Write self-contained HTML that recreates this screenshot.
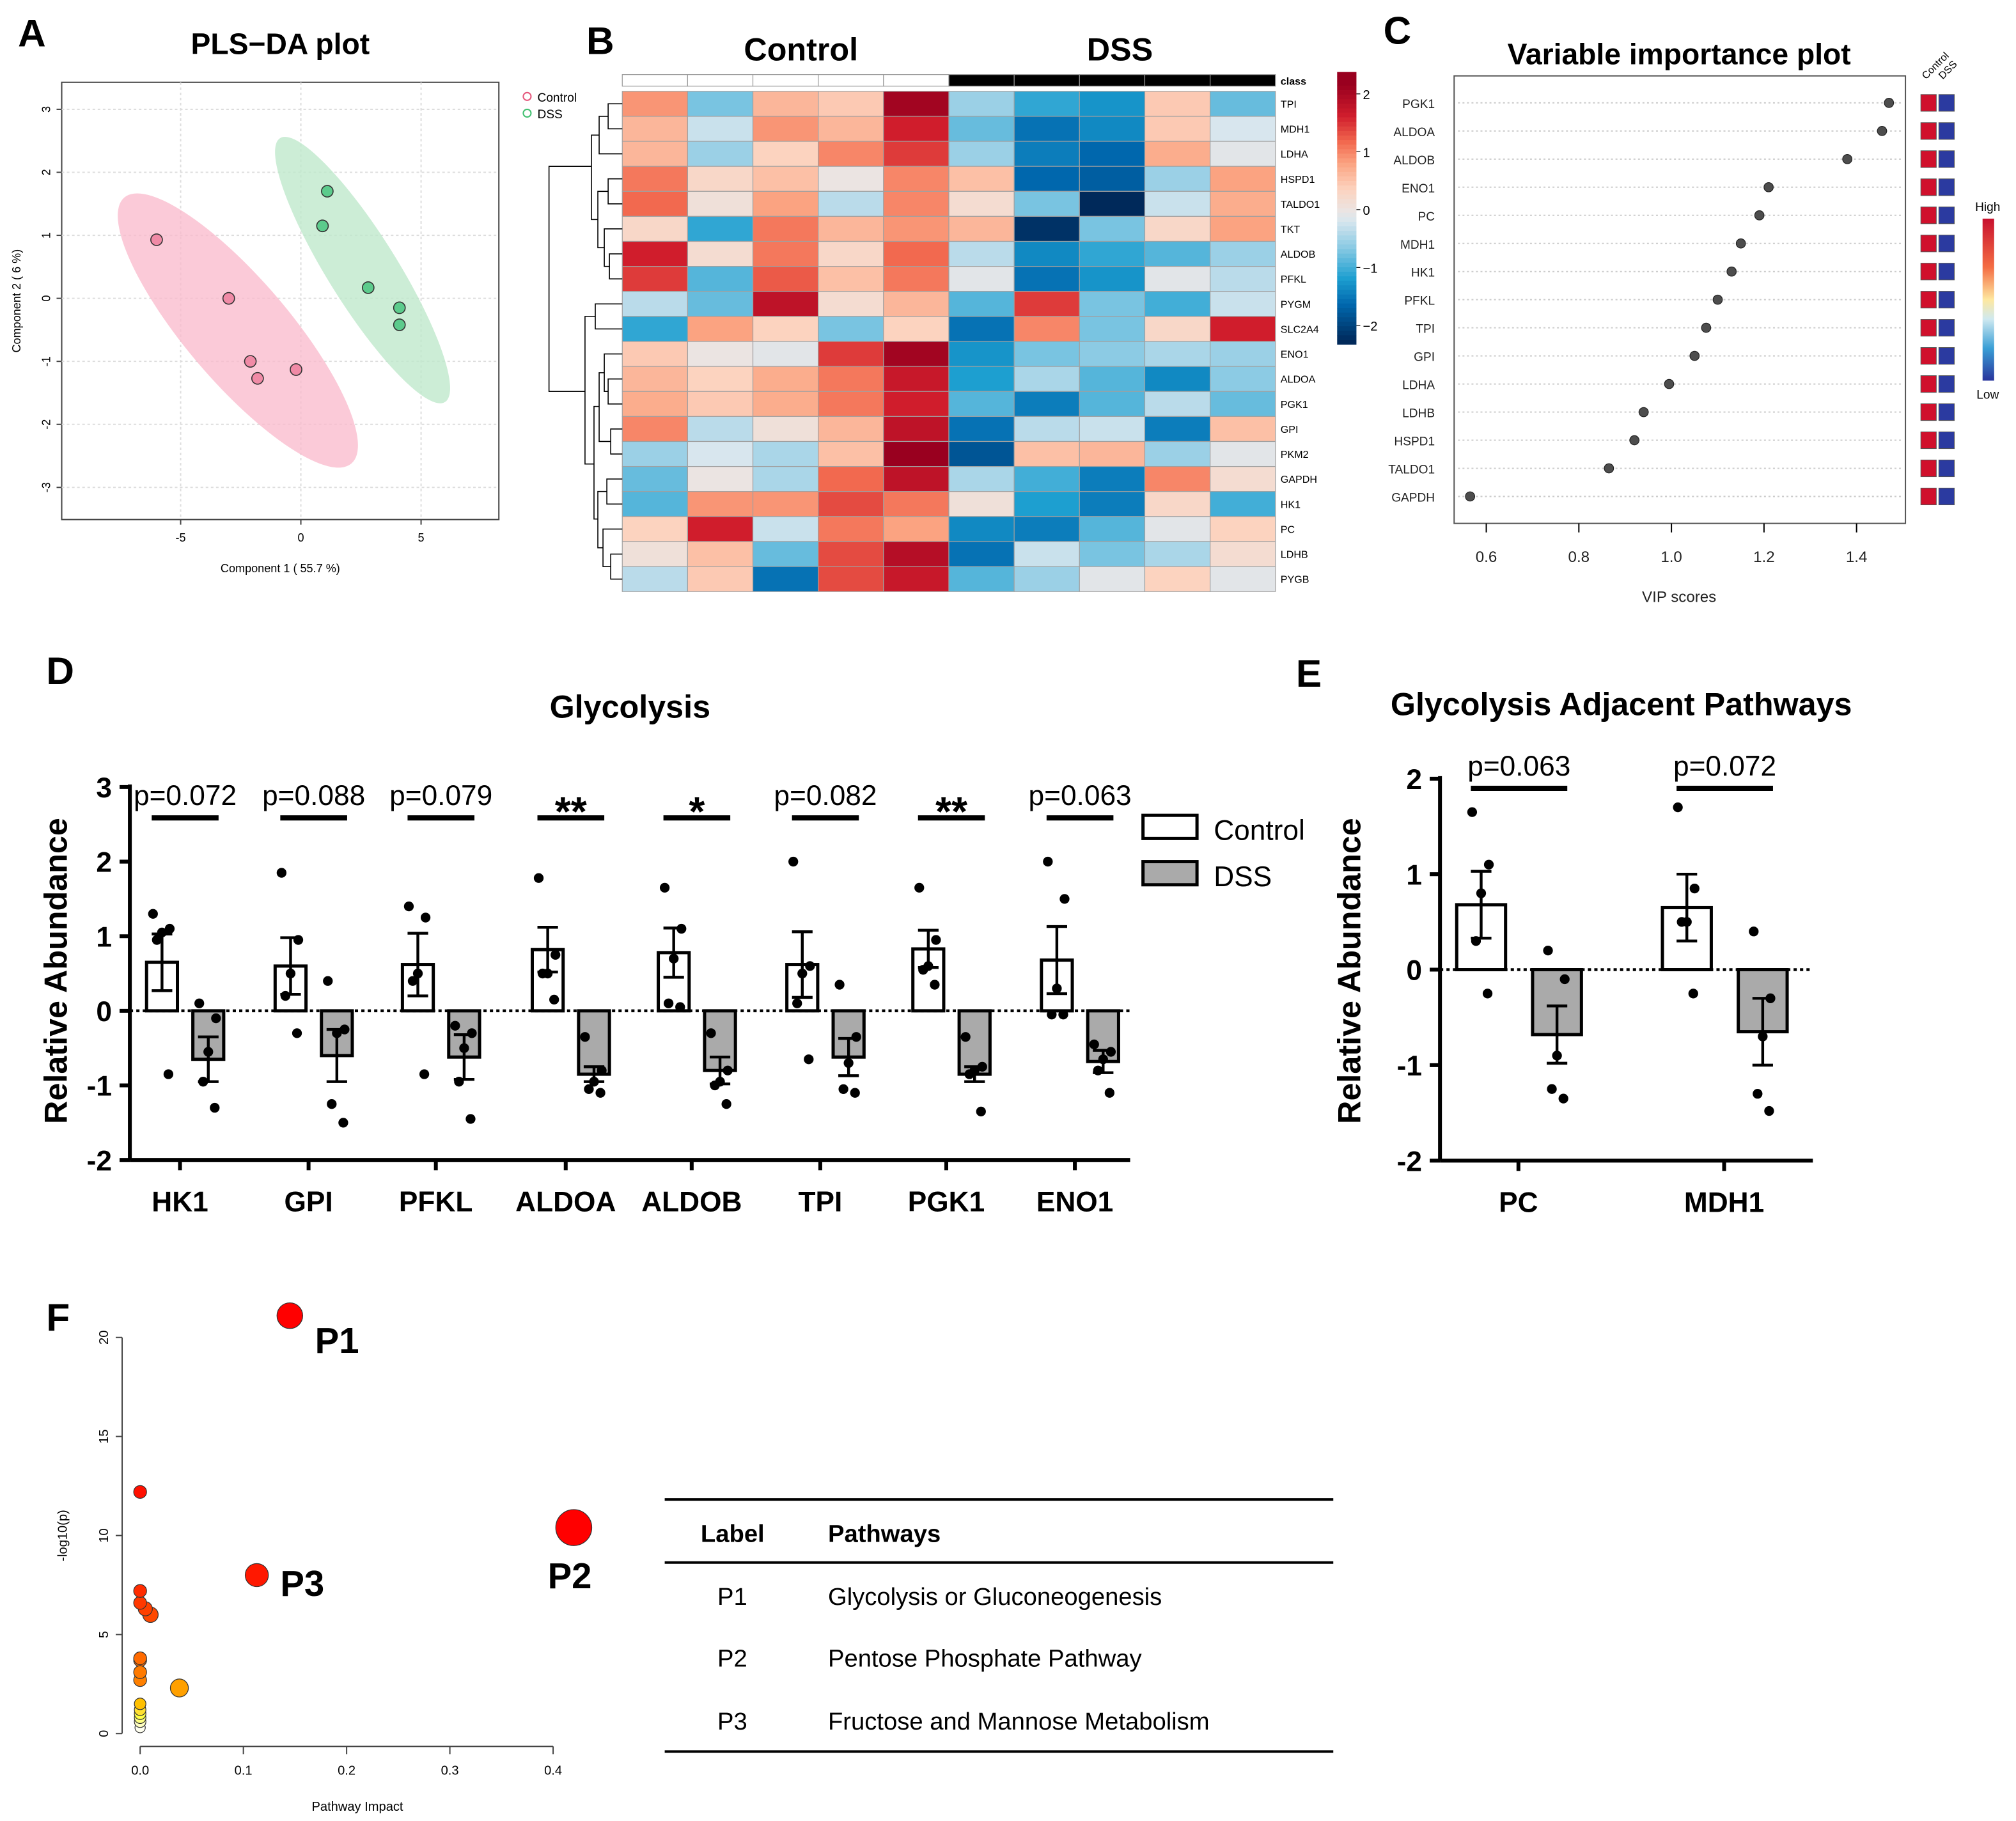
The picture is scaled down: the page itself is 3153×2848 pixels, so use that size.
<!DOCTYPE html>
<html><head><meta charset="utf-8"><style>
html,body{margin:0;padding:0;background:#fff;}
svg{display:block;font-family:"Liberation Sans",sans-serif;}
</style></head><body>
<svg id="fig" width="3153" height="2848" viewBox="0 0 1568 1416" preserveAspectRatio="none" xmlns="http://www.w3.org/2000/svg"></svg>
<script>
// ---------- DATA ----------
const plsControlX=[-6,-3,-2.1,-1.8,-0.2];
const plsControlY=[0.93,0,-1,-1.27,-1.13];
const plsDssX=[1.1,0.9,2.8,4.1,4.1];
const plsDssY=[1.7,1.15,0.17,-0.15,-0.42];
const heatGenes=["TPI","MDH1","LDHA","HSPD1","TALDO1","TKT","ALDOB","PFKL","PYGM","SLC2A4","ENO1","ALDOA","PGK1","GPI","PKM2","GAPDH","HK1","PC","LDHB","PYGB"];
const heatValues=[
[1.0,-0.8,0.7,0.5,2.3,-0.6,-1.2,-1.4,0.5,-0.9],
[0.7,-0.3,1.0,0.7,1.8,-0.9,-1.7,-1.5,0.5,-0.2],
[0.7,-0.6,0.4,1.1,1.6,-0.6,-1.6,-1.8,0.8,-0.1],
[1.2,0.3,0.6,0,1.1,0.6,-1.8,-1.9,-0.6,0.9],
[1.3,0.1,0.9,-0.4,1.1,0.2,-0.8,-2.5,-0.3,0.8],
[0.3,-1.2,1.2,0.7,1.0,0.7,-2.4,-0.8,0.3,0.9],
[1.8,0.2,1.2,0.3,1.3,-0.4,-1.5,-1.2,-1.0,-0.6],
[1.6,-1.0,1.4,0.6,1.2,-0.1,-1.7,-1.4,-0.1,-0.4],
[-0.4,-0.9,2.0,0.2,0.7,-1.0,1.6,-0.8,-1.1,-0.3],
[-1.2,0.9,0.4,-0.8,0.4,-1.7,1.1,-0.8,0.3,1.8],
[0.5,0,-0.1,1.6,2.3,-1.4,-0.8,-0.7,-0.5,-0.6],
[0.7,0.4,0.8,1.2,1.9,-1.3,-0.5,-1.0,-1.5,-0.7],
[0.8,0.5,0.8,1.2,1.8,-1.0,-1.6,-1.0,-0.4,-0.9],
[1.1,-0.4,0.1,0.7,2.0,-1.7,-0.4,-0.3,-1.6,0.6],
[-0.6,-0.2,-0.5,0.6,2.4,-2.0,0.6,0.7,-0.6,-0.1],
[-0.9,0.0,-0.5,1.3,2.0,-0.5,-1.1,-1.6,1.1,0.2],
[-1.0,1.0,1.0,1.5,1.2,0.1,-1.3,-1.6,0.3,-1.1],
[0.4,1.8,-0.3,1.2,0.9,-1.5,-1.6,-1.0,-0.1,0.4],
[0.1,0.6,-0.9,1.5,2.1,-1.7,-0.3,-0.8,-0.5,0.2],
[-0.4,0.5,-1.7,1.5,1.9,-1.0,-0.6,-0.1,0.4,-0.1]];
const heatScaleTicks=[2,1,0,-1,-2];
const vipGenes=["PGK1","ALDOA","ALDOB","ENO1","PC","MDH1","HK1","PFKL","TPI","GPI","LDHA","LDHB","HSPD1","TALDO1","GAPDH"];
const vipScores=[1.47,1.455,1.38,1.21,1.19,1.15,1.13,1.10,1.075,1.05,0.995,0.94,0.92,0.865,0.565];
const vipTicks=[0.6,0.8,1.0,1.2,1.4];
const glyGenes=["HK1","GPI","PFKL","ALDOA","ALDOB","TPI","PGK1","ENO1"];
const glyControlMean=[0.65,0.6,0.62,0.82,0.78,0.62,0.83,0.68];
const glyDssMean=[-0.65,-0.6,-0.62,-0.85,-0.8,-0.62,-0.85,-0.68];
const glyControlSem=[0.38,0.38,0.42,0.3,0.33,0.44,0.25,0.45];
const glyDssSem=[0.3,0.35,0.3,0.1,0.18,0.25,0.1,0.15];
const glyControlPts=[[1.3,1.1,1.05,0.95,-0.85],[1.85,0.95,0.5,0.2,-0.3],[1.4,1.25,0.5,0.4,-0.85],[1.78,0.75,0.5,0.5,0.15],[1.65,1.1,0.7,0.1,0.05],[2.0,0.6,0.5,0.1,-0.65],[1.65,0.95,0.6,0.55,0.35],[2.0,1.5,0.3,-0.05,-0.05]];
const glyDssPts=[[0.1,-0.1,-0.55,-0.95,-1.3],[0.4,-0.25,-0.3,-1.25,-1.5],[-0.2,-0.3,-0.5,-0.95,-1.45],[-0.35,-0.8,-0.95,-1.05,-1.1],[-0.3,-0.8,-0.95,-1.0,-1.25],[0.35,-0.35,-0.7,-1.05,-1.1],[-0.35,-0.75,-0.8,-0.85,-1.35],[-0.45,-0.55,-0.65,-0.8,-1.1]];
const glySig=["p=0.072","p=0.088","p=0.079","**","*","p=0.082","**","p=0.063"];
const glyTicks=[3,2,1,0,-1,-2];
const adjGenes=["PC","MDH1"];
const adjControlMean=[0.68,0.65];
const adjDssMean=[-0.68,-0.65];
const adjControlSem=[0.35,0.35];
const adjDssSem=[0.3,0.35];
const adjControlPts=[[1.65,1.1,0.8,0.3,-0.25],[1.7,0.85,0.5,0.5,-0.25]];
const adjDssPts=[[0.2,-0.1,-0.9,-1.25,-1.35],[0.4,-0.3,-0.7,-1.3,-1.48]];
const adjSig=["p=0.063","p=0.072"];
const adjTicks=[2,1,0,-1,-2];
const pwImpact=[0.145,0.42,0.113,0,0,0,0.005,0.01,0,0,0,0,0.038,0,0,0,0,0,0];
const pwLogP=[21.1,10.4,8.0,12.2,7.2,6.6,6.3,6.0,3.8,3.1,2.7,3.7,2.3,1.5,1.2,1.0,0.8,0.6,0.3];
const pwColor=["#ff0000","#ff0000","#ff1800","#ff1000","#ff2c00","#ff3800","#ff4000","#ff4800","#ff6a00","#ff7a00","#ff8000","#ff6c00","#ffa000","#ffc000","#ffe030","#ffff40","#ffff80","#ffffc0","#fffff0"];
const pwRadius=[10,14,9,5,5,5,5.5,6,5,5,5,5,7,4.5,4.5,4.5,4.5,4.5,4];
const pwXTicks=[0,0.1,0.2,0.3,0.4];
const pwYTicks=[0,5,10,15,20];

// ---------- helpers ----------
const NS="http://www.w3.org/2000/svg";
const svg=document.getElementById('fig');
function mk(tag,attrs,parent){const e=document.createElementNS(NS,tag);for(const k in attrs)e.setAttribute(k,attrs[k]);(parent||svg).appendChild(e);return e;}
function tx(x,y,s,attrs,parent){const e=mk('text',Object.assign({x:x,y:y},attrs||{}),parent);e.textContent=s;return e;}
function grp(){return mk('g',{});}

// panel letters
[["A",14,36],["B",456,42],["C",1076,34],["D",36,532],["E",1008,534],["F",36,1035]].forEach(p=>{
 const t=tx(p[1],p[2],p[0],{'font-size':30,'font-weight':'bold'});
 
 
});

// ---------- A : PLS-DA ----------
const gA=grp();


const ax=v=>234+v*18.7, ay=v=>232-v*49;
let t=tx(218,42,"PLS\u2212DA plot",{'font-size':23,'font-weight':'bold','text-anchor':'middle'},gA);

mk('rect',{x:48,y:64,width:340,height:340,fill:'none',stroke:'#444','stroke-width':1},gA);
[-5,0,5].forEach(v=>{mk('line',{x1:ax(v),x2:ax(v),y1:64,y2:404,stroke:'#ddd','stroke-dasharray':'2,2'},gA);mk('line',{x1:ax(v),x2:ax(v),y1:404,y2:408,stroke:'#444'},gA);tx(ax(v),421,String(v),{'font-size':9,'text-anchor':'middle'},gA);});
[3,2,1,0,-1,-2,-3].forEach(v=>{mk('line',{x1:48,x2:388,y1:ay(v),y2:ay(v),stroke:'#ddd','stroke-dasharray':'2,2'},gA);mk('line',{x1:44,x2:48,y1:ay(v),y2:ay(v),stroke:'#444'},gA);tx(36,ay(v),String(v),{'font-size':9,'text-anchor':'middle',transform:`rotate(-90 36 ${ay(v)})`,dy:3},gA);});
tx(218,445,"Component 1 ( 55.7 %)",{'font-size':9,'text-anchor':'middle'},gA);
tx(16,234,"Component 2 ( 6 %)",{'font-size':9,'text-anchor':'middle',transform:'rotate(-90 16 234)'},gA);
let e=mk('ellipse',{cx:185,cy:257,rx:136,ry:40,fill:'#f9b8cb','fill-opacity':0.75,transform:'rotate(49.5 185 257)'},gA);

e=mk('ellipse',{cx:282,cy:210,rx:121,ry:27,fill:'#bfe8cc','fill-opacity':0.8,transform:'rotate(58 282 210)'},gA);

plsControlX.forEach((v,i)=>{const c=mk('circle',{cx:ax(v),cy:ay(plsControlY[i]),r:4.5,fill:'#f08aa6',stroke:'#333','stroke-width':0.8},gA);});
plsDssX.forEach((v,i)=>{const c=mk('circle',{cx:ax(v),cy:ay(plsDssY[i]),r:4.5,fill:'#5ccb8c',stroke:'#333','stroke-width':0.8},gA);});
mk('circle',{cx:410,cy:75,r:3,fill:'none',stroke:'#e5557a'},gA);tx(418,79,"Control",{'font-size':9.5},gA);
mk('circle',{cx:410,cy:88,r:3,fill:'none',stroke:'#3fbf6f'},gA);tx(418,92,"DSS",{'font-size':9.5},gA);

// ---------- B : heatmap ----------
const gB=grp();


const stops=[[-2.5,[0,41,90]],[-1.8,[0,103,173]],[-1.3,[29,159,208]],[-0.7,[140,203,228]],[-0.2,[216,230,238]],[0,[235,228,226]],[0.4,[252,211,191]],[0.9,[251,163,129]],[1.3,[242,105,79]],[1.8,[208,29,44]],[2.4,[153,0,31]]];
function hcol(v){if(v<=stops[0][0])return `rgb(${stops[0][1]})`;for(let i=1;i<stops.length;i++){if(v<=stops[i][0]){const a=stops[i-1],b=stops[i],f=(v-a[0])/(b[0]-a[0]);return 'rgb('+a[1].map((c,k)=>Math.round(c+(b[1][k]-c)*f)).join(',')+')';}}return `rgb(${stops[stops.length-1][1]})`;}
const hx0=484,hcw=50.8,hy0=71,hch=19.45;
t=tx(623,47,"Control",{'font-size':25,'font-weight':'bold','text-anchor':'middle'},gB);
t=tx(871,47,"DSS",{'font-size':25,'font-weight':'bold','text-anchor':'middle'},gB);
for(let j=0;j<10;j++){const r=mk('rect',{x:hx0+j*hcw,y:58,width:hcw,height:9,fill:j<5?'#fff':'#000',stroke:'#999','stroke-width':0.6},gB);}
tx(996,66,"class",{'font-size':8,'font-weight':'bold'},gB);
heatValues.forEach((row,i)=>{row.forEach((v,j)=>{const r=mk('rect',{x:hx0+j*hcw,y:hy0+i*hch,width:hcw,height:hch,fill:hcol(v),stroke:'#a0a0a0','stroke-width':0.6},gB);});
 tx(996,hy0+i*hch+hch/2+3,heatGenes[i],{'font-size':8},gB);});
const rc=i=>hy0+i*hch+hch/2;
function bracket(ya,yb,x,xa,xb){mk('path',{d:`M${xa},${ya}H${x}V${yb}H${xb}`,fill:'none',stroke:'#000','stroke-width':0.8},gB);}
bracket(rc(0),rc(1),473,484,484);bracket((rc(0)+rc(1))/2,rc(2),466,473,484);
bracket(rc(3),rc(4),473,484,484);bracket(rc(6),rc(7),474,484,484);bracket(rc(5),(rc(6)+rc(7))/2,470,484,474);
bracket((rc(3)+rc(4))/2,(rc(5)+rc(6.5))/2,465,473,470);bracket((rc(0.5)+rc(2))/2,(rc(3.5)+rc(5.75))/2,460,466,465);
bracket(rc(8),rc(9),463,484,484);
bracket(rc(11),rc(12),473,484,484);bracket(rc(10),rc(11.5),470,484,473);bracket(rc(13),rc(14),475,484,484);bracket(rc(10.75),rc(13.5),466,470,475);
bracket(rc(15),rc(16),472,484,484);bracket(rc(18),rc(19),475,484,484);bracket(rc(17),rc(18.5),469,484,475);bracket(rc(15.5),rc(17.75),465,472,469);
bracket(rc(12.1),rc(16.6),462,466,465);bracket(rc(8.5),rc(14.4),455,463,462);
bracket(rc(2.5),rc(11.5),427,460,455);
for(let k=0;k<60;k++){const v=2.6-k*(5.2/60);mk('rect',{x:1040,y:56+k*3.53,width:15,height:3.7,fill:hcol(v)},gB);}
heatScaleTicks.forEach(v=>{const y=163-v*45;mk('line',{x1:1055,x2:1058,y1:y,y2:y,stroke:'#000','stroke-width':0.6},gB);tx(1060,y+4,v<0?'\u2212'+(-v):String(v),{'font-size':10},gB);});

// ---------- C : VIP ----------
const gC=grp();


const cx=v=>1156+(v-0.6)*360, cy=i=>80+i*21.86;
t=tx(1306,50,"Variable importance plot",{'font-size':23,'font-weight':'bold','text-anchor':'middle'},gC);
mk('rect',{x:1131,y:59,width:351,height:348,fill:'none',stroke:'#555','stroke-width':1},gC);
vipTicks.forEach(v=>{mk('line',{x1:cx(v),x2:cx(v),y1:407,y2:414,stroke:'#000'},gC);tx(cx(v),437,v.toFixed(1),{'font-size':12,'text-anchor':'middle','fill':'#222'},gC);});
tx(1306,468,"VIP scores",{'font-size':12,'text-anchor':'middle','fill':'#222'},gC);
vipGenes.forEach((g,i)=>{const y=cy(i);mk('line',{x1:1134,x2:1480,y1:y,y2:y,stroke:'#ccc','stroke-dasharray':'1.5,2'},gC);tx(1116,y+4,g,{'font-size':9.5,'text-anchor':'end','fill':'#222'},gC);
 const c=mk('circle',{cx:cx(vipScores[i]),cy:y,r:3.6,fill:'#4d4d4d',stroke:'#222','stroke-width':0.6},gC);
 mk('rect',{x:1494,y:y-6.5,width:12,height:13,fill:'#d0102c',stroke:'#555','stroke-width':0.5},gC);mk('rect',{x:1508,y:y-6.5,width:12,height:13,fill:'#2b3aa0',stroke:'#555','stroke-width':0.5},gC);});
tx(1498,62,"Control",{'font-size':8,transform:'rotate(-45 1498 62)'},gC);tx(1511,62,"DSS",{'font-size':8,transform:'rotate(-45 1511 62)'},gC);
const lg=mk('linearGradient',{id:'hl',x1:0,y1:0,x2:0,y2:1},mk('defs',{}));
[['0','#c8102e'],['0.3','#f46d43'],['0.5','#fee8a0'],['0.62','#cfe9f0'],['0.8','#3a9fd6'],['1','#28349c']].forEach(s=>mk('stop',{offset:s[0],'stop-color':s[1]},lg));
mk('rect',{x:1542,y:170,width:9,height:126,fill:'url(#hl)'},gC);
tx(1546,164,"High",{'font-size':9.5,'text-anchor':'middle'},gC);tx(1546,310,"Low",{'font-size':9.5,'text-anchor':'middle'},gC);

// ---------- bar chart helper ----------
function barChart(g,o){
 const y=v=>o.y0-v*o.k;
 mk('line',{x1:o.ax,x2:o.ax,y1:y(o.ticks[0])-2,y2:y(o.ticks[o.ticks.length-1]),stroke:'#000','stroke-width':3},g);
 mk('line',{x1:o.ax,x2:o.xend,y1:y(o.ticks[o.ticks.length-1]),y2:y(o.ticks[o.ticks.length-1]),stroke:'#000','stroke-width':3},g);
 o.ticks.forEach(v=>{mk('line',{x1:o.ax-8,x2:o.ax,y1:y(v),y2:y(v),stroke:'#000','stroke-width':3},g);tx(o.ax-14,y(v)+8,v<0?'-'+(-v):String(v),{'font-size':22,'font-weight':'bold','text-anchor':'end'},g);});
 mk('line',{x1:o.ax,x2:o.xend,y1:y(0),y2:y(0),stroke:'#000','stroke-width':2.2,'stroke-dasharray':'2.5,2.5'},g);
 o.genes.forEach((gn,i)=>{const c=o.centers[i];const yb=y(o.ticks[o.ticks.length-1]);
  mk('line',{x1:c,x2:c,y1:yb,y2:yb+8,stroke:'#000','stroke-width':3},g);
  tx(c,yb+40,gn,{'font-size':22,'font-weight':'bold','text-anchor':'middle'},g);
  [[o.cm,o.cs,o.cp,'#fff',c+o.off[0]],[o.dm,o.ds,o.dp,'#aaa',c+o.off[1]]].forEach((s,si)=>{
   const m=s[0][i],sem=s[1][i],bx=s[4];
   const r=mk('rect',{x:bx-o.bw/2,y:Math.min(y(m),y(0)),width:o.bw,height:Math.abs(y(m)-y(0)),fill:s[3],stroke:'#000','stroke-width':2.5},g);
   
   const hi=m+sem, lo=m-sem;
   mk('line',{x1:bx,x2:bx,y1:y(lo),y2:y(hi),stroke:'#000','stroke-width':2.2},g);
   mk('line',{x1:bx-8,x2:bx+8,y1:y(hi),y2:y(hi),stroke:'#000','stroke-width':2.2},g);
   mk('line',{x1:bx-8,x2:bx+8,y1:y(lo),y2:y(lo),stroke:'#000','stroke-width':2.2},g);
   s[2][i].forEach((p,k)=>{const d=mk('circle',{cx:bx+[-7,6,0,-4,5][k],cy:y(p),r:3.8,fill:'#000'},g);});
  });
  const sl=mk('line',{x1:c+o.off[0]-8,x2:c+o.off[1]+8,y1:o.sigY,y2:o.sigY,stroke:'#000','stroke-width':4},g);
  
  const st=o.sig[i];const star=st[0]==='*';
  tx(c+(o.off[0]+o.off[1])/2,star?o.sigY+6:o.sigY-10,st,{'font-size':star?32:22,'font-weight':star?'bold':'normal','text-anchor':'middle'},g);
 });
}
// ---------- D ----------
const gD=grp();


t=tx(490,558,"Glycolysis",{'font-size':25,'font-weight':'bold','text-anchor':'middle'},gD);
barChart(gD,{ax:101,xend:879,y0:786,k:58,ticks:glyTicks,genes:glyGenes,centers:[140,240,339,440,538,638,736,836],off:[-14,22],bw:24,cm:glyControlMean,cs:glyControlSem,cp:glyControlPts,dm:glyDssMean,ds:glyDssSem,dp:glyDssPts,sig:glySig,sigY:636});
tx(52,755,"Relative Abundance",{'font-size':25,'font-weight':'bold','text-anchor':'middle',transform:'rotate(-90 52 755)'},gD);
let lr=mk('rect',{x:889,y:634,width:42,height:18,fill:'#fff',stroke:'#000','stroke-width':2.5},gD);
lr=mk('rect',{x:889,y:670,width:42,height:18,fill:'#aaa',stroke:'#000','stroke-width':2.5},gD);
tx(944,653,"Control",{'font-size':22},gD);tx(944,689,"DSS",{'font-size':22},gD);
// ---------- E ----------
const gE=grp();


t=tx(1261,556,"Glycolysis Adjacent Pathways",{'font-size':25,'font-weight':'bold','text-anchor':'middle'},gE);
barChart(gE,{ax:1120,xend:1410,y0:754,k:74.25,ticks:adjTicks,genes:adjGenes,centers:[1181,1341],off:[-29,30],bw:38,cm:adjControlMean,cs:adjControlSem,cp:adjControlPts,dm:adjDssMean,ds:adjDssSem,dp:adjDssPts,sig:adjSig,sigY:613});
tx(1058,755,"Relative Abundance",{'font-size':25,'font-weight':'bold','text-anchor':'middle',transform:'rotate(-90 1058 755)'},gE);

// ---------- F ----------
const gF=grp();


const fx=v=>109+v*803, fy=v=>1348-v*15.4;
mk('line',{x1:95,x2:95,y1:fy(0),y2:fy(20),stroke:'#444'},gF);
mk('line',{x1:fx(0),x2:fx(0.4),y1:1358,y2:1358,stroke:'#444'},gF);
pwYTicks.forEach(v=>{mk('line',{x1:90,x2:95,y1:fy(v),y2:fy(v),stroke:'#444'},gF);tx(80,fy(v),String(v),{'font-size':10,'text-anchor':'middle',transform:`rotate(-90 80 ${fy(v)})`,dy:4},gF);});
pwXTicks.forEach(v=>{mk('line',{x1:fx(v),x2:fx(v),y1:1358,y2:1364,stroke:'#444'},gF);tx(fx(v),1380,v.toFixed(1),{'font-size':10,'text-anchor':'middle'},gF);});
tx(278,1408,"Pathway Impact",{'font-size':10,'text-anchor':'middle'},gF);
tx(52,1194,"-log10(p)",{'font-size':10,'text-anchor':'middle',transform:'rotate(-90 52 1194)'},gF);
for(let i=pwImpact.length-1;i>=0;i--){const c=mk('circle',{cx:fx(pwImpact[i]),cy:fy(pwLogP[i]),r:pwRadius[i],fill:pwColor[i],stroke:'#333','stroke-width':0.6},gF);}
tx(245,1052,"P1",{'font-size':28,'font-weight':'bold'},gF);
tx(426,1235,"P2",{'font-size':28,'font-weight':'bold'},gF);
tx(218,1241,"P3",{'font-size':28,'font-weight':'bold'},gF);
// table
const gT=grp();


[1166,1215,1362].forEach(y=>mk('line',{x1:517,x2:1037,y1:y,y2:y,stroke:'#000','stroke-width':2},gT));
tx(545,1199,"Label",{'font-size':19,'font-weight':'bold'},gT);tx(644,1199,"Pathways",{'font-size':19,'font-weight':'bold'},gT);
[["P1","Glycolysis or Gluconeogenesis",1248],["P2","Pentose Phosphate Pathway",1296],["P3","Fructose and Mannose Metabolism",1345]].forEach(r=>{tx(558,r[2],r[0],{'font-size':19},gT);tx(644,r[2],r[1],{'font-size':19},gT);});
</script>
</body></html>
